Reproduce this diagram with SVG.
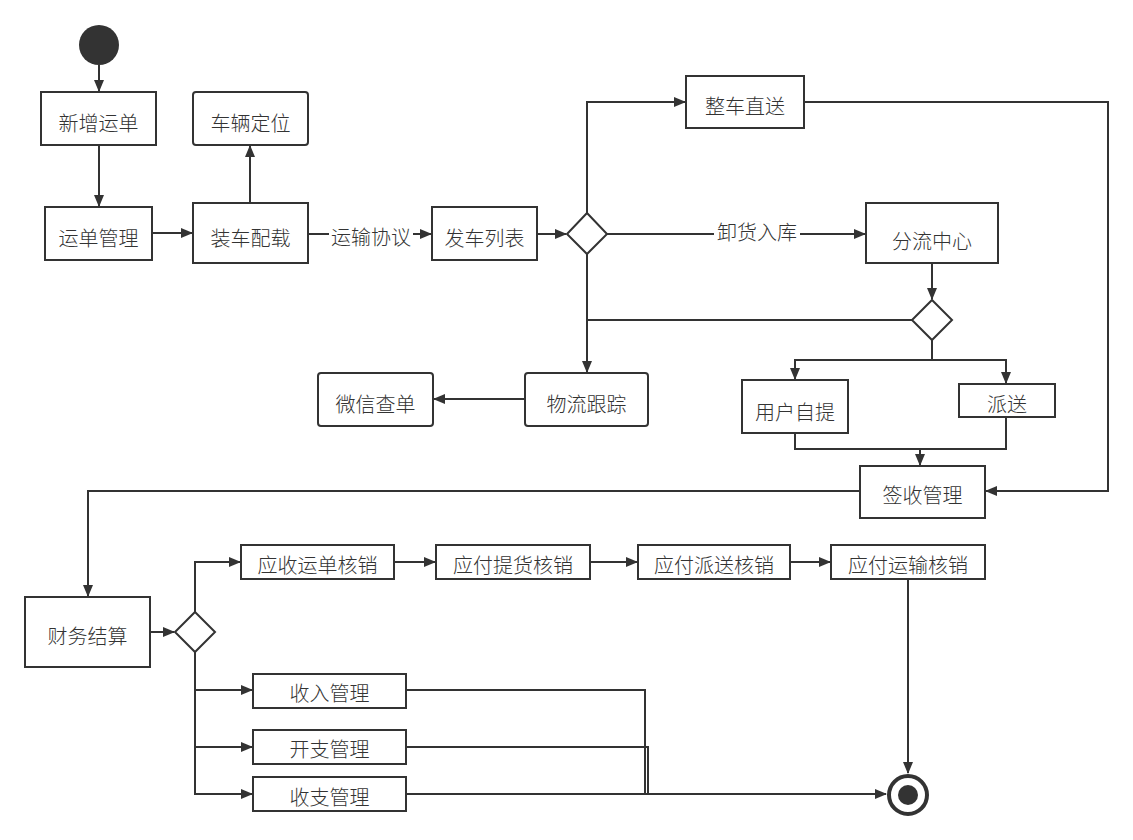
<svg xmlns="http://www.w3.org/2000/svg" width="1133" height="840" viewBox="0 0 1133 840">
<defs>
<marker id="arr" markerWidth="12" markerHeight="12" refX="11" refY="6" orient="auto" markerUnits="userSpaceOnUse"><path d="M0,1 L12,6 L0,11 Z" fill="#333"/></marker>
<style>
.n{fill:#fff;stroke:#333;stroke-width:2}
.t{font-family:"Noto Sans CJK SC","Microsoft YaHei",sans-serif;font-size:20px;font-weight:300;fill:#333;text-anchor:middle;dominant-baseline:central}
.c{fill:none;stroke:#333;stroke-width:2;marker-end:url(#arr)}
.l{fill:none;stroke:#333;stroke-width:2}
</style>
</defs>
<rect width="1133" height="840" fill="#fff"/>
<g id="connectors">
<path class="c" d="M99,65 L99,91"/>
<path class="c" d="M99,145 L99,206"/>
<path class="c" d="M152,233 L192,233"/>
<path class="c" d="M250,203 L250,146"/>
<path class="c" d="M308,234 L431,234"/>
<path class="c" d="M537,234 L566,234"/>
<path class="c" d="M587,213 L587,102 L685,102"/>
<path class="c" d="M607,234 L865,234"/>
<path class="c" d="M932,263 L932,299"/>
<path class="l" d="M912,320 L587,320"/>
<path class="c" d="M587,254 L587,372"/>
<path class="c" d="M525,399 L434,399"/>
<path class="l" d="M932,340 L932,360"/>
<path class="c" d="M932,360 L795,360 L795,379"/>
<path class="c" d="M932,360 L1006,360 L1006,383"/>
<path class="l" d="M795,433 L795,449 L920,449"/>
<path class="c" d="M1006,417 L1006,449 L920,449 L920,465"/>
<path class="c" d="M804,102 L1108,102 L1108,491 L986,491"/>
<path class="c" d="M860,491 L88,491 L88,596"/>
<path class="c" d="M150,632 L174,632"/>
<path class="c" d="M195,612 L195,562 L240,562"/>
<path class="c" d="M394,562 L435,562"/>
<path class="c" d="M590,562 L637,562"/>
<path class="c" d="M790,562 L830,562"/>
<path class="c" d="M908,579 L908,773"/>
<path class="c" d="M195,652 L195,690 L252,690"/>
<path class="c" d="M195,690 L195,747 L252,747"/>
<path class="c" d="M195,747 L195,794 L252,794"/>
<path class="l" d="M406,690 L645,690 L645,794"/>
<path class="l" d="M406,747 L648,747 L648,794"/>
<path class="c" d="M406,794 L886,794"/>
<rect x="329" y="222" width="84" height="24" fill="#fff"/>
<text class="t" x="371" y="236">运输协议</text>
<rect x="714" y="220" width="86" height="24" fill="#fff"/>
<text class="t" x="757" y="231">卸货入库</text>
</g>
<g id="start"><circle cx="99" cy="45" r="20" fill="#333"/></g>
<g id="n1"><rect class="n" x="41" y="92" width="115" height="53"/><text class="t" x="98.5" y="122">新增运单</text></g>
<g id="n2"><rect class="n" x="193" y="92" width="115" height="53" rx="3"/><text class="t" x="250.5" y="122">车辆定位</text></g>
<g id="n3"><rect class="n" x="45" y="207" width="107" height="53"/><text class="t" x="98.5" y="237">运单管理</text></g>
<g id="n4"><rect class="n" x="193" y="203" width="115" height="60"/><text class="t" x="250.5" y="237">装车配载</text></g>
<g id="n5"><rect class="n" x="432" y="207" width="105" height="53"/><text class="t" x="484.5" y="237">发车列表</text></g>
<g id="d1"><path class="n" d="M587,213 L607,234 L587,254 L567,234 Z"/></g>
<g id="n6"><rect class="n" x="686" y="76" width="118" height="52"/><text class="t" x="745" y="105">整车直送</text></g>
<g id="n7"><rect class="n" x="866" y="203" width="132" height="60"/><text class="t" x="932" y="240">分流中心</text></g>
<g id="d2"><path class="n" d="M932,300 L952,320 L932,340 L912,320 Z"/></g>
<g id="n8"><rect class="n" x="525" y="373" width="123" height="53" rx="3"/><text class="t" x="586.5" y="403">物流跟踪</text></g>
<g id="n9"><rect class="n" x="318" y="373" width="115" height="53" rx="3"/><text class="t" x="375.5" y="403">微信查单</text></g>
<g id="n10"><rect class="n" x="742" y="380" width="106" height="53"/><text class="t" x="795" y="411">用户自提</text></g>
<g id="n11"><rect class="n" x="959" y="384" width="96" height="33"/><text class="t" x="1007" y="403">派送</text></g>
<g id="n12"><rect class="n" x="860" y="466" width="125" height="52"/><text class="t" x="922.5" y="494">签收管理</text></g>
<g id="n13"><rect class="n" x="25" y="597" width="125" height="70"/><text class="t" x="87.5" y="635">财务结算</text></g>
<g id="d3"><path class="n" d="M195,612 L215,632 L195,652 L175,632 Z"/></g>
<g id="n14"><rect class="n" x="241" y="545" width="153" height="34"/><text class="t" x="317.5" y="564">应收运单核销</text></g>
<g id="n15"><rect class="n" x="436" y="545" width="154" height="34"/><text class="t" x="513" y="564">应付提货核销</text></g>
<g id="n16"><rect class="n" x="638" y="545" width="152" height="34"/><text class="t" x="714" y="564">应付派送核销</text></g>
<g id="n17"><rect class="n" x="831" y="545" width="154" height="34"/><text class="t" x="908" y="564">应付运输核销</text></g>
<g id="n18"><rect class="n" x="253" y="674" width="153" height="34"/><text class="t" x="329.5" y="692.5">收入管理</text></g>
<g id="n19"><rect class="n" x="253" y="730" width="153" height="34"/><text class="t" x="329.5" y="748.5">开支管理</text></g>
<g id="n20"><rect class="n" x="253" y="777" width="153" height="34"/><text class="t" x="329.5" y="796">收支管理</text></g>
<g id="end"><circle cx="908" cy="795" r="19" fill="#fff" stroke="#333" stroke-width="4"/><circle cx="908" cy="795" r="10" fill="#333"/></g>
</svg>
